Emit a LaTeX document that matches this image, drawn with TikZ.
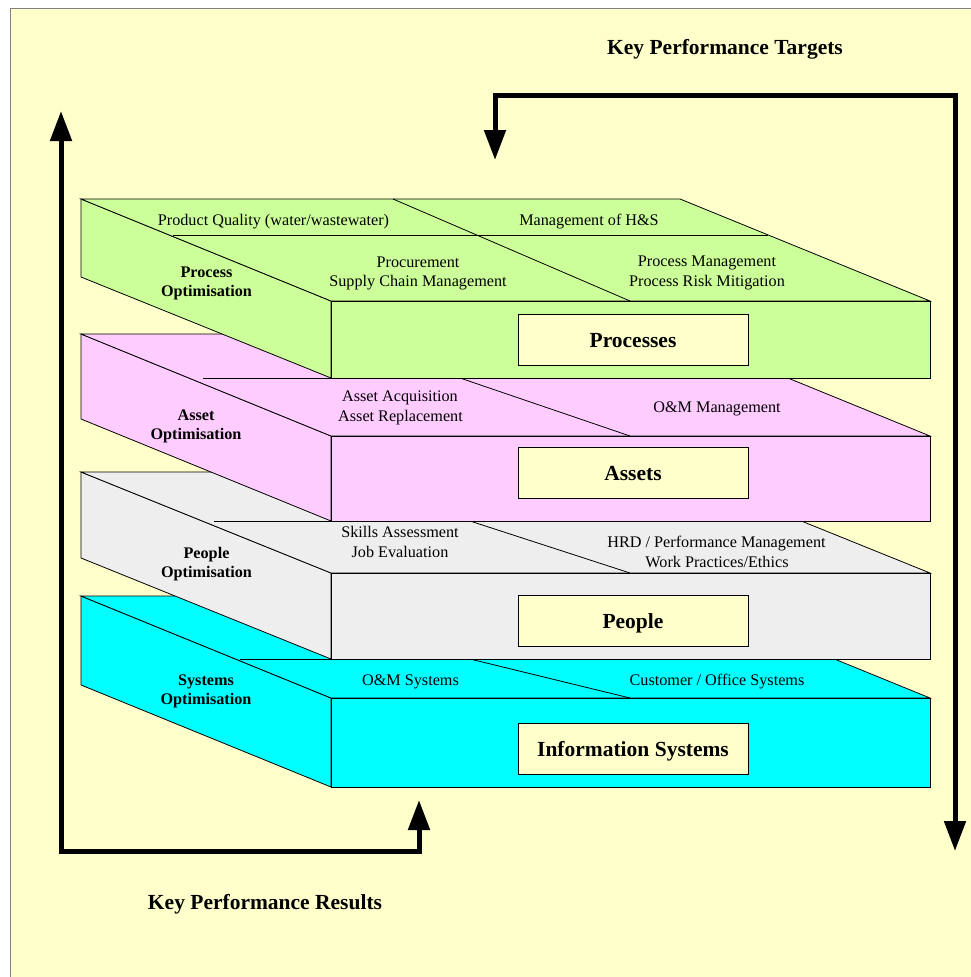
\documentclass[tikz,border=0pt]{standalone}
\usepackage{fontspec}
\setmainfont{Liberation Serif}
\usetikzlibrary{arrows.meta}

\definecolor{bgyellow}{HTML}{FFFFCC}
\definecolor{procgreen}{HTML}{CCFF99}
\definecolor{assetpink}{HTML}{FFCCFF}
\definecolor{peoplegray}{HTML}{EEEEEE}
\definecolor{syscyan}{HTML}{00FFFF}
\definecolor{framegray}{HTML}{808080}

\begin{document}
\begin{tikzpicture}[x=1pt,y=-1pt,
  slabface/.style={draw=black, line width=0.8pt, line join=miter},
  slabline/.style={draw=black, line width=0.8pt},
  itemtext/.style={anchor=base, inner sep=0pt, font=\fontsize{16.2}{19}\selectfont},
  sidetext/.style={anchor=base, inner sep=0pt, font=\bfseries\fontsize{16.2}{19}\selectfont},
  layerbox/.style={draw=black, line width=0.8pt, fill=bgyellow, minimum width=230pt,
    minimum height=51pt, inner sep=0pt, text height=14.2pt, text depth=0pt,
    font=\bfseries\fontsize{21.5}{24}\selectfont},
  headtext/.style={anchor=base, inner sep=0pt, font=\bfseries\fontsize{21.5}{24}\selectfont},
  feedback/.style={line width=5pt, line join=miter,
    arrows={Triangle[length=30pt,width=21pt]-Triangle[length=30pt,width=21pt]}}
]
\useasboundingbox (0,0) rectangle (971,977);

% page background with its frame on the left and top
\fill[bgyellow] (10,8) rectangle (971,977);
\draw[framegray, line width=1pt] (10,977) -- (10,8) -- (971,8);

% ---- Systems slab (bottom) ----
\filldraw[slabface, fill=syscyan] (81,596) -- (331,698) -- (331,787) -- (81,685) -- cycle;
\filldraw[slabface, fill=syscyan] (81,596) -- (680,596) -- (930,698) -- (331,698) -- cycle;
\filldraw[slabface, fill=syscyan] (331,698) rectangle (930,787);
\draw[slabline] (240,659) -- (834,659);
\draw[slabline] (470,659) -- (630,698);

% ---- People slab ----
\filldraw[slabface, fill=peoplegray] (81,472) -- (331,573) -- (331,659) -- (81,558) -- cycle;
\filldraw[slabface, fill=peoplegray] (81,472) -- (680,472) -- (930,573) -- (331,573) -- cycle;
\filldraw[slabface, fill=peoplegray] (331,573) rectangle (930,659);
\draw[slabline] (214,521) -- (801,521);
\draw[slabline] (470,521) -- (630,573);

% ---- Assets slab ----
\filldraw[slabface, fill=assetpink] (81,334) -- (331,436) -- (331,521) -- (81,419) -- cycle;
\filldraw[slabface, fill=assetpink] (81,334) -- (680,334) -- (930,436) -- (331,436) -- cycle;
\filldraw[slabface, fill=assetpink] (331,436) rectangle (930,521);
\draw[slabline] (203,378) -- (788,378);
\draw[slabline] (460,378) -- (630,436);

% ---- Processes slab (top) ----
\filldraw[slabface, fill=procgreen] (81,199) -- (331,301) -- (331,378) -- (81,277) -- cycle;
\filldraw[slabface, fill=procgreen] (81,199) -- (680,199) -- (930,301) -- (331,301) -- cycle;
\filldraw[slabface, fill=procgreen] (331,301) rectangle (930,378);
\draw[slabline] (173,235) -- (768,235);
\draw[slabline] (393,199) -- (630,301);

% ---- labels on the Processes slab ----
\node[itemtext] (pq)   at (273.5,225.5) {Product Quality (water/wastewater)};
\node[itemtext] (hs)   at (589,225.5) {Management of H\&S};
\node[itemtext] (proc) at (418,267) {Procurement};
\node[itemtext] (scm)  at (418,286.5) {Supply Chain Management};
\node[itemtext] (pm)   at (707,266.5) {Process Management};
\node[itemtext] (prm)  at (707,286.5) {Process Risk Mitigation};
\node[sidetext] (po1)  at (206.5,277) {Process};
\node[sidetext] (po2)  at (206.5,296.5) {Optimisation};
\node[layerbox] (processes) at (633,340) {Processes};

% ---- labels on the Assets slab ----
\node[itemtext] (aa)  at (400,401.5) {Asset Acquisition};
\node[itemtext] (ar)  at (400.5,421.5) {Asset Replacement};
\node[itemtext] (om)  at (717,412) {O\&M Management};
\node[sidetext] (ao1) at (196,420.5) {Asset};
\node[sidetext] (ao2) at (196,439.5) {Optimisation};
\node[layerbox] (assets) at (633,473) {Assets};

% ---- labels on the People slab ----
\node[itemtext] (sa)  at (400,537) {Skills Assessment};
\node[itemtext] (je)  at (400,557) {Job Evaluation};
\node[itemtext] (hrd) at (716.5,547) {HRD / Performance Management};
\node[itemtext] (wp)  at (717,567) {Work Practices/Ethics};
\node[sidetext] (pe1) at (206.5,558.5) {People};
\node[sidetext] (pe2) at (206.5,577.5) {Optimisation};
\node[layerbox] (people) at (633,621) {People};

% ---- labels on the Systems slab ----
\node[itemtext] (oms) at (410.5,685.5) {O\&M Systems};
\node[itemtext] (cos) at (717,685.5) {Customer / Office Systems};
\node[sidetext] (so1) at (206,685.5) {Systems};
\node[sidetext] (so2) at (206,704.5) {Optimisation};
\node[layerbox] (infosys) at (633,749) {Information Systems};

% ---- feedback loops ----
\node[headtext] (targets) at (725,54) {Key Performance Targets};
\node[headtext] (results) at (265,909) {Key Performance Results};

\coordinate (tgtTip) at (495,160);
\coordinate (tgtL)   at (495,95);
\coordinate (tgtR)   at (955,95);
\coordinate (tgtEnd) at (955,851);
\draw[feedback] (tgtTip) -- (tgtL) -- (tgtR) -- (tgtEnd);

\coordinate (resTip) at (61,111);
\coordinate (resL)   at (61,851);
\coordinate (resR)   at (419,851);
\coordinate (resEnd) at (419,800);
\draw[feedback] (resTip) -- (resL) -- (resR) -- (resEnd);
\end{tikzpicture}
\end{document}
